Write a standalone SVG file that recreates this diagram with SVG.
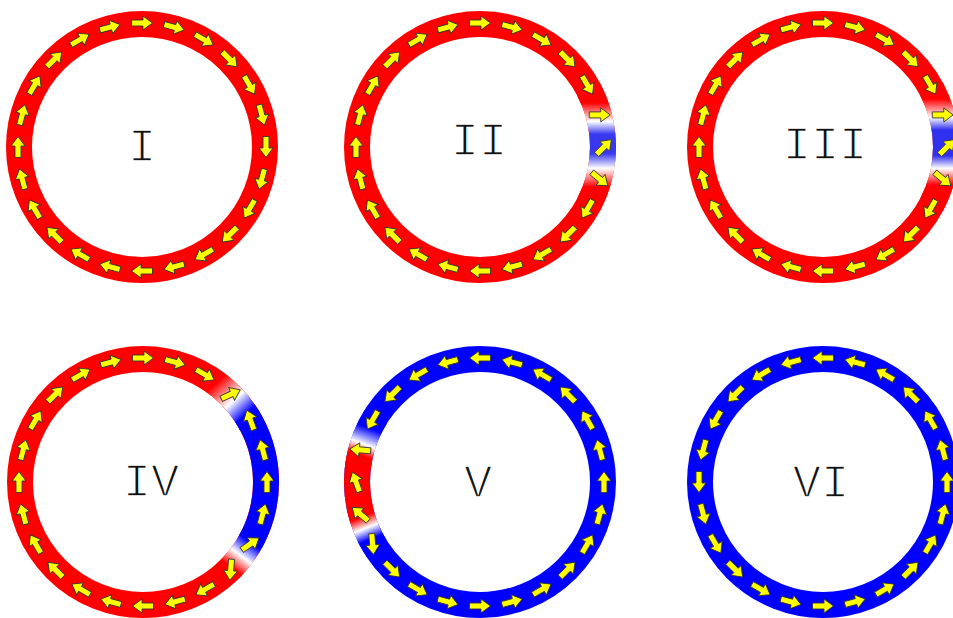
<svg xmlns="http://www.w3.org/2000/svg" width="953" height="618" viewBox="0 0 953 618">
<style>
.ring{fill:none;stroke-width:26}
.red{stroke:#ff0000}
.blue{stroke:#0000ff}
.lbl{font-family:"Liberation Mono","Courier New",monospace;font-size:47px;fill:#111;stroke:#fff;stroke-width:1.5;text-anchor:middle}
.ar{fill:#ffff00;stroke:#333;stroke-width:0.9}
</style>
<defs>
<path id="ar" class="ar" d="M-10.5,-3H1V-7L10.5,0L1,7V3H-10.5Z"/>
<linearGradient id="gII" gradientUnits="userSpaceOnUse" x1="108.6" y1="-57.7" x2="108.6" y2="57.7">
<stop offset="0" stop-color="#ff0000"/><stop offset="0.118" stop-color="#ff0000"/><stop offset="0.279" stop-color="#ffffff"/><stop offset="0.389" stop-color="#3838f0"/><stop offset="0.556" stop-color="#3838f0"/><stop offset="0.685" stop-color="#ffffff"/><stop offset="0.847" stop-color="#ff0000"/><stop offset="1" stop-color="#ff0000"/>
</linearGradient>
<linearGradient id="gIII" gradientUnits="userSpaceOnUse" x1="108.6" y1="-57.7" x2="108.6" y2="57.7">
<stop offset="0" stop-color="#ff0000"/><stop offset="0.084" stop-color="#ff0000"/><stop offset="0.242" stop-color="#ffffff"/><stop offset="0.352" stop-color="#3030f0"/><stop offset="0.574" stop-color="#3030f0"/><stop offset="0.685" stop-color="#ffffff"/><stop offset="0.829" stop-color="#ff0000"/><stop offset="1" stop-color="#ff0000"/>
</linearGradient>
<linearGradient id="gIVa" gradientUnits="userSpaceOnUse" x1="65.2" y1="-104.3" x2="108.6" y2="-57.7">
<stop offset="0" stop-color="#ff0000"/><stop offset="0.15" stop-color="#ff0000"/><stop offset="0.534" stop-color="#ffffff"/><stop offset="0.83" stop-color="#0000ff"/><stop offset="1" stop-color="#0000ff"/>
</linearGradient>
<linearGradient id="gIVb" gradientUnits="userSpaceOnUse" x1="110.5" y1="53.9" x2="82.3" y2="91.4">
<stop offset="0" stop-color="#0000ff"/><stop offset="0.15" stop-color="#0000ff"/><stop offset="0.5" stop-color="#ffffff"/><stop offset="0.82" stop-color="#ff0000"/><stop offset="1" stop-color="#ff0000"/>
</linearGradient>
<linearGradient id="gVa" gradientUnits="userSpaceOnUse" x1="-121.8" y1="-17.1" x2="-104.3" y2="-65.2">
<stop offset="0" stop-color="#ff0000"/><stop offset="0.2" stop-color="#ff0000"/><stop offset="0.416" stop-color="#ffffff"/><stop offset="0.75" stop-color="#0000ff"/><stop offset="1" stop-color="#0000ff"/>
</linearGradient>
<linearGradient id="gVb" gradientUnits="userSpaceOnUse" x1="-104.3" y1="65.2" x2="-120.3" y2="25.6">
<stop offset="0" stop-color="#0000ff"/><stop offset="0.22" stop-color="#0000ff"/><stop offset="0.5" stop-color="#ffffff"/><stop offset="0.78" stop-color="#ff0000"/><stop offset="1" stop-color="#ff0000"/>
</linearGradient>
</defs>

<g id="ring-I" transform="translate(142 147)">
<circle class="ring red" r="123"/>
<use href="#ar" transform="rotate(0) translate(124 0) rotate(90)"/>
<use href="#ar" transform="rotate(-15) translate(124 0) rotate(90)"/>
<use href="#ar" transform="rotate(-30) translate(124 0) rotate(90)"/>
<use href="#ar" transform="rotate(-45) translate(124 0) rotate(90)"/>
<use href="#ar" transform="rotate(-60) translate(124 0) rotate(90)"/>
<use href="#ar" transform="rotate(-75) translate(124 0) rotate(90)"/>
<use href="#ar" transform="rotate(-90) translate(124 0) rotate(90)"/>
<use href="#ar" transform="rotate(-105) translate(124 0) rotate(90)"/>
<use href="#ar" transform="rotate(-120) translate(124 0) rotate(90)"/>
<use href="#ar" transform="rotate(-135) translate(124 0) rotate(90)"/>
<use href="#ar" transform="rotate(-150) translate(124 0) rotate(90)"/>
<use href="#ar" transform="rotate(-165) translate(124 0) rotate(90)"/>
<use href="#ar" transform="rotate(-180) translate(124 0) rotate(90)"/>
<use href="#ar" transform="rotate(-195) translate(124 0) rotate(90)"/>
<use href="#ar" transform="rotate(-210) translate(124 0) rotate(90)"/>
<use href="#ar" transform="rotate(-225) translate(124 0) rotate(90)"/>
<use href="#ar" transform="rotate(-240) translate(124 0) rotate(90)"/>
<use href="#ar" transform="rotate(-255) translate(124 0) rotate(90)"/>
<use href="#ar" transform="rotate(-270) translate(124 0) rotate(90)"/>
<use href="#ar" transform="rotate(-285) translate(124 0) rotate(90)"/>
<use href="#ar" transform="rotate(-300) translate(124 0) rotate(90)"/>
<use href="#ar" transform="rotate(-315) translate(124 0) rotate(90)"/>
<use href="#ar" transform="rotate(-330) translate(124 0) rotate(90)"/>
<use href="#ar" transform="rotate(-345) translate(124 0) rotate(90)"/>
<text class="lbl" x="0" y="14">I</text>
</g>

<g id="ring-II" transform="translate(480 147)">
<circle class="ring red" r="123"/>
<path class="ring" stroke="url(#gII)" d="M108.6,-57.7A123,123 0 0 1 108.6,57.7"/>
<use href="#ar" transform="rotate(0) translate(124 0) rotate(-45)"/>
<use href="#ar" transform="rotate(-15) translate(124 0) rotate(15)"/>
<use href="#ar" transform="rotate(-30) translate(124 0) rotate(90)"/>
<use href="#ar" transform="rotate(-45) translate(124 0) rotate(90)"/>
<use href="#ar" transform="rotate(-60) translate(124 0) rotate(90)"/>
<use href="#ar" transform="rotate(-75) translate(124 0) rotate(90)"/>
<use href="#ar" transform="rotate(-90) translate(124 0) rotate(90)"/>
<use href="#ar" transform="rotate(-105) translate(124 0) rotate(90)"/>
<use href="#ar" transform="rotate(-120) translate(124 0) rotate(90)"/>
<use href="#ar" transform="rotate(-135) translate(124 0) rotate(90)"/>
<use href="#ar" transform="rotate(-150) translate(124 0) rotate(90)"/>
<use href="#ar" transform="rotate(-165) translate(124 0) rotate(90)"/>
<use href="#ar" transform="rotate(-180) translate(124 0) rotate(90)"/>
<use href="#ar" transform="rotate(-195) translate(124 0) rotate(90)"/>
<use href="#ar" transform="rotate(-210) translate(124 0) rotate(90)"/>
<use href="#ar" transform="rotate(-225) translate(124 0) rotate(90)"/>
<use href="#ar" transform="rotate(-240) translate(124 0) rotate(90)"/>
<use href="#ar" transform="rotate(-255) translate(124 0) rotate(90)"/>
<use href="#ar" transform="rotate(-270) translate(124 0) rotate(90)"/>
<use href="#ar" transform="rotate(-285) translate(124 0) rotate(90)"/>
<use href="#ar" transform="rotate(-300) translate(124 0) rotate(90)"/>
<use href="#ar" transform="rotate(-315) translate(124 0) rotate(90)"/>
<use href="#ar" transform="rotate(-330) translate(124 0) rotate(90)"/>
<use href="#ar" transform="rotate(-345) translate(124 0) rotate(25)"/>
<text class="lbl" x="-1" y="8">II</text>
</g>

<g id="ring-III" transform="translate(823 147)">
<circle class="ring red" r="123"/>
<path class="ring" stroke="url(#gIII)" d="M108.6,-57.7A123,123 0 0 1 108.6,57.7"/>
<use href="#ar" transform="rotate(0) translate(124 0) rotate(-45)"/>
<use href="#ar" transform="rotate(-15) translate(124 0) rotate(15)"/>
<use href="#ar" transform="rotate(-30) translate(124 0) rotate(90)"/>
<use href="#ar" transform="rotate(-45) translate(124 0) rotate(90)"/>
<use href="#ar" transform="rotate(-60) translate(124 0) rotate(90)"/>
<use href="#ar" transform="rotate(-75) translate(124 0) rotate(90)"/>
<use href="#ar" transform="rotate(-90) translate(124 0) rotate(90)"/>
<use href="#ar" transform="rotate(-105) translate(124 0) rotate(90)"/>
<use href="#ar" transform="rotate(-120) translate(124 0) rotate(90)"/>
<use href="#ar" transform="rotate(-135) translate(124 0) rotate(90)"/>
<use href="#ar" transform="rotate(-150) translate(124 0) rotate(90)"/>
<use href="#ar" transform="rotate(-165) translate(124 0) rotate(90)"/>
<use href="#ar" transform="rotate(-180) translate(124 0) rotate(90)"/>
<use href="#ar" transform="rotate(-195) translate(124 0) rotate(90)"/>
<use href="#ar" transform="rotate(-210) translate(124 0) rotate(90)"/>
<use href="#ar" transform="rotate(-225) translate(124 0) rotate(90)"/>
<use href="#ar" transform="rotate(-240) translate(124 0) rotate(90)"/>
<use href="#ar" transform="rotate(-255) translate(124 0) rotate(90)"/>
<use href="#ar" transform="rotate(-270) translate(124 0) rotate(90)"/>
<use href="#ar" transform="rotate(-285) translate(124 0) rotate(90)"/>
<use href="#ar" transform="rotate(-300) translate(124 0) rotate(90)"/>
<use href="#ar" transform="rotate(-315) translate(124 0) rotate(90)"/>
<use href="#ar" transform="rotate(-330) translate(124 0) rotate(90)"/>
<use href="#ar" transform="rotate(-345) translate(124 0) rotate(25)"/>
<text class="lbl" x="2" y="12">III</text>
</g>

<g id="ring-IV" transform="translate(143 482)">
<circle class="ring red" r="123"/>
<path class="ring" stroke="url(#gIVa)" d="M65.2,-104.3A123,123 0 0 1 108.6,-57.7"/>
<path class="ring" stroke="url(#gIVb)" d="M110.5,53.9A123,123 0 0 1 82.3,91.4"/>
<path class="ring blue" d="M103.2,-67A123,123 0 0 1 107.6,59.6"/>
<use href="#ar" transform="rotate(0) translate(124 0) rotate(-90)"/>
<use href="#ar" transform="rotate(-15) translate(124 0) rotate(-90)"/>
<use href="#ar" transform="rotate(-30) translate(124 0) rotate(-80)"/>
<use href="#ar" transform="rotate(-45) translate(124 0) rotate(20)"/>
<use href="#ar" transform="rotate(-60) translate(124 0) rotate(90)"/>
<use href="#ar" transform="rotate(-75) translate(124 0) rotate(90)"/>
<use href="#ar" transform="rotate(-90) translate(124 0) rotate(90)"/>
<use href="#ar" transform="rotate(-105) translate(124 0) rotate(90)"/>
<use href="#ar" transform="rotate(-120) translate(124 0) rotate(90)"/>
<use href="#ar" transform="rotate(-135) translate(124 0) rotate(90)"/>
<use href="#ar" transform="rotate(-150) translate(124 0) rotate(90)"/>
<use href="#ar" transform="rotate(-165) translate(124 0) rotate(90)"/>
<use href="#ar" transform="rotate(-180) translate(124 0) rotate(90)"/>
<use href="#ar" transform="rotate(-195) translate(124 0) rotate(90)"/>
<use href="#ar" transform="rotate(-210) translate(124 0) rotate(90)"/>
<use href="#ar" transform="rotate(-225) translate(124 0) rotate(90)"/>
<use href="#ar" transform="rotate(-240) translate(124 0) rotate(90)"/>
<use href="#ar" transform="rotate(-255) translate(124 0) rotate(90)"/>
<use href="#ar" transform="rotate(-270) translate(124 0) rotate(90)"/>
<use href="#ar" transform="rotate(-285) translate(124 0) rotate(90)"/>
<use href="#ar" transform="rotate(-300) translate(124 0) rotate(90)"/>
<use href="#ar" transform="rotate(-315) translate(124 0) rotate(50)"/>
<use href="#ar" transform="rotate(-330) translate(124 0) rotate(-65)"/>
<use href="#ar" transform="rotate(-345) translate(124 0) rotate(-90)"/>
<text class="lbl" x="8" y="14">IV</text>
</g>

<g id="ring-V" transform="translate(480 482)">
<circle class="ring blue" r="123"/>
<path class="ring" stroke="url(#gVa)" d="M-121.8,-17.1A123,123 0 0 1 -104.3,-65.2"/>
<path class="ring" stroke="url(#gVb)" d="M-104.3,65.2A123,123 0 0 1 -120.3,25.6"/>
<path class="ring red" d="M-118.8,31.8A123,123 0 0 1 -120.7,-23.5"/>
<use href="#ar" transform="rotate(0) translate(124 0) rotate(-90)"/>
<use href="#ar" transform="rotate(-15) translate(124 0) rotate(-90)"/>
<use href="#ar" transform="rotate(-30) translate(124 0) rotate(-90)"/>
<use href="#ar" transform="rotate(-45) translate(124 0) rotate(-90)"/>
<use href="#ar" transform="rotate(-60) translate(124 0) rotate(-90)"/>
<use href="#ar" transform="rotate(-75) translate(124 0) rotate(-90)"/>
<use href="#ar" transform="rotate(-90) translate(124 0) rotate(-90)"/>
<use href="#ar" transform="rotate(-105) translate(124 0) rotate(-90)"/>
<use href="#ar" transform="rotate(-120) translate(124 0) rotate(-90)"/>
<use href="#ar" transform="rotate(-135) translate(124 0) rotate(-90)"/>
<use href="#ar" transform="rotate(-150) translate(124 0) rotate(-90)"/>
<use href="#ar" transform="rotate(-165) translate(124 0) rotate(-10)"/>
<use href="#ar" transform="rotate(-180) translate(124 0) rotate(70)"/>
<use href="#ar" transform="rotate(-195) translate(124 0) rotate(55)"/>
<use href="#ar" transform="rotate(-210) translate(124 0) rotate(-65)"/>
<use href="#ar" transform="rotate(-225) translate(124 0) rotate(-90)"/>
<use href="#ar" transform="rotate(-240) translate(124 0) rotate(-90)"/>
<use href="#ar" transform="rotate(-255) translate(124 0) rotate(-90)"/>
<use href="#ar" transform="rotate(-270) translate(124 0) rotate(-90)"/>
<use href="#ar" transform="rotate(-285) translate(124 0) rotate(-90)"/>
<use href="#ar" transform="rotate(-300) translate(124 0) rotate(-90)"/>
<use href="#ar" transform="rotate(-315) translate(124 0) rotate(-90)"/>
<use href="#ar" transform="rotate(-330) translate(124 0) rotate(-90)"/>
<use href="#ar" transform="rotate(-345) translate(124 0) rotate(-90)"/>
<text class="lbl" x="-2" y="15">V</text>
</g>

<g id="ring-VI" transform="translate(823 482)">
<circle class="ring blue" r="123"/>
<use href="#ar" transform="rotate(0) translate(124 0) rotate(-90)"/>
<use href="#ar" transform="rotate(-15) translate(124 0) rotate(-90)"/>
<use href="#ar" transform="rotate(-30) translate(124 0) rotate(-90)"/>
<use href="#ar" transform="rotate(-45) translate(124 0) rotate(-90)"/>
<use href="#ar" transform="rotate(-60) translate(124 0) rotate(-90)"/>
<use href="#ar" transform="rotate(-75) translate(124 0) rotate(-90)"/>
<use href="#ar" transform="rotate(-90) translate(124 0) rotate(-90)"/>
<use href="#ar" transform="rotate(-105) translate(124 0) rotate(-90)"/>
<use href="#ar" transform="rotate(-120) translate(124 0) rotate(-90)"/>
<use href="#ar" transform="rotate(-135) translate(124 0) rotate(-90)"/>
<use href="#ar" transform="rotate(-150) translate(124 0) rotate(-90)"/>
<use href="#ar" transform="rotate(-165) translate(124 0) rotate(-90)"/>
<use href="#ar" transform="rotate(-180) translate(124 0) rotate(-90)"/>
<use href="#ar" transform="rotate(-195) translate(124 0) rotate(-90)"/>
<use href="#ar" transform="rotate(-210) translate(124 0) rotate(-90)"/>
<use href="#ar" transform="rotate(-225) translate(124 0) rotate(-90)"/>
<use href="#ar" transform="rotate(-240) translate(124 0) rotate(-90)"/>
<use href="#ar" transform="rotate(-255) translate(124 0) rotate(-90)"/>
<use href="#ar" transform="rotate(-270) translate(124 0) rotate(-90)"/>
<use href="#ar" transform="rotate(-285) translate(124 0) rotate(-90)"/>
<use href="#ar" transform="rotate(-300) translate(124 0) rotate(-90)"/>
<use href="#ar" transform="rotate(-315) translate(124 0) rotate(-90)"/>
<use href="#ar" transform="rotate(-330) translate(124 0) rotate(-90)"/>
<use href="#ar" transform="rotate(-345) translate(124 0) rotate(-90)"/>
<text class="lbl" x="-2" y="15">VI</text>
</g>
</svg>
